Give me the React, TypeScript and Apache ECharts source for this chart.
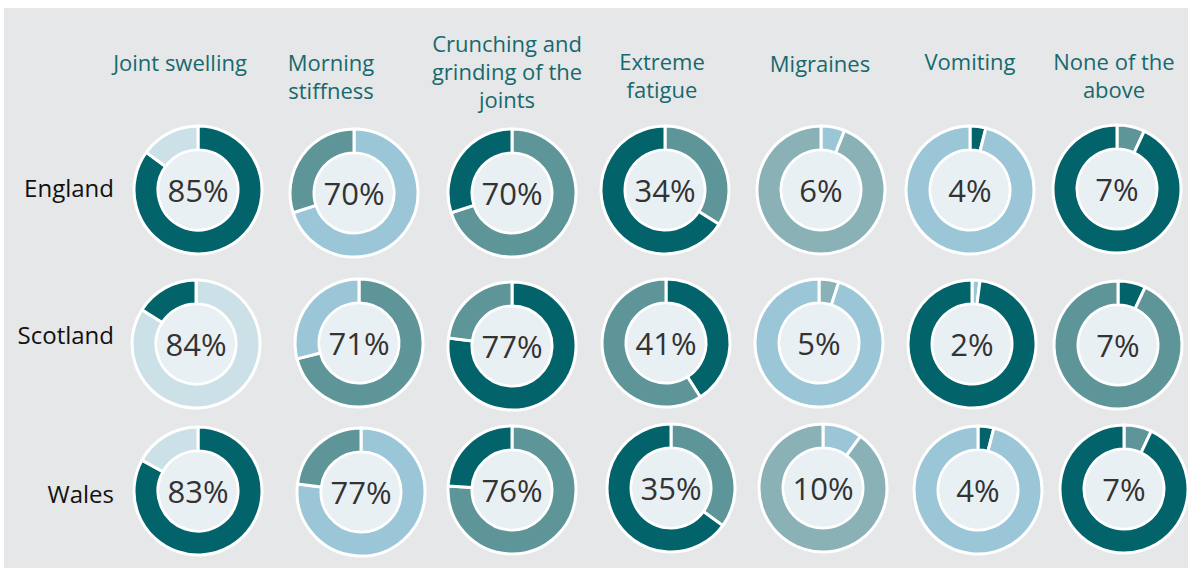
import React, { useEffect, useRef } from "react";
import * as echarts from "echarts";

// ---- Data ----
const countries = ["England", "Scotland", "Wales"];
const symptoms = [
  "Joint swelling",
  "Morning\nstiffness",
  "Crunching and\ngrinding of the\njoints",
  "Extreme\nfatigue",
  "Migraines",
  "Vomiting",
  "None of the\nabove",
];
const englandValues = [85, 70, 70, 34, 6, 4, 7];
const scotlandValues = [84, 71, 77, 41, 5, 2, 7];
const walesValues = [83, 77, 76, 35, 10, 4, 7];

// ---- Palette ----
const D = "#02636a";
const M = "#5e9599";
const LB = "#9bc6d7";
const VL = "#cce0e8";
const G = "#8ab1b6";
const INNER = "#e9f0f3";
const BG = "#e6e7e8";
const HEAD = "#16696d";

// value segment colour / remainder colour per donut
const englandColors = [[D, VL], [LB, M], [M, D], [M, D], [LB, G], [D, LB], [M, D]];
const scotlandColors = [[VL, D], [M, LB], [D, M], [D, M], [G, LB], [LB, D], [D, M]];
const walesColors = [[D, VL], [LB, M], [M, D], [M, D], [LB, G], [D, LB], [M, D]];

// ---- Layout ----
const centerX = [
  [198, 354, 512, 665, 821, 970, 1117],
  [196, 359, 512, 666, 819, 972, 1118],
  [198, 361, 512, 671, 823, 978, 1124],
];
const centerY = [
  [190, 193, 193, 190, 190, 190, 189],
  [344, 343, 346, 343, 343, 344, 345],
  [491, 492, 490, 488, 488, 490, 489],
];
const headerX = [180, 331, 507, 662, 820, 970, 1114];
const headerTop = [48, 48, 29, 47, 49, 47, 47];
const rowLabelY = [187, 334, 493];
const FONT = "'Open Sans', 'Noto Sans', sans-serif";

export default function App() {
  const ref = useRef<HTMLDivElement>(null);
  useEffect(() => {
    document.body.style.margin = "0";
    if (!ref.current) return;
    const chart = echarts.init(ref.current, undefined, { renderer: "svg" });
    const rows = [
      { values: englandValues, colors: englandColors },
      { values: scotlandValues, colors: scotlandColors },
      { values: walesValues, colors: walesColors },
    ];
    const series: any[] = [];
    rows.forEach((row, r) => {
      row.values.forEach((v, c) => {
        const center = [centerX[r][c], centerY[r][c]];
        series.push({
          type: "pie",
          silent: true,
          center,
          radius: [40, 64],
          startAngle: 90,
          clockwise: true,
          label: { show: false },
          labelLine: { show: false },
          emphasis: { disabled: true },
          itemStyle: { borderColor: "#ffffff", borderWidth: 3 },
          data: [
            { value: v, name: "v", itemStyle: { color: row.colors[c][0] } },
            { value: 100 - v, name: "rest", itemStyle: { color: row.colors[c][1] } },
          ],
          z: 2,
        });
        series.push({
          type: "pie",
          silent: true,
          center,
          radius: [0, 38.5],
          label: {
            show: true,
            position: "center",
            formatter: () => `${v}%`,
            fontSize: 31,
            fontFamily: FONT,
            color: "#333333",
          },
          labelLine: { show: false },
          emphasis: { disabled: true },
          itemStyle: { color: INNER, borderWidth: 0 },
          data: [{ value: 1, name: "inner" }],
          z: 3,
        });
      });
    });

    const graphic: any[] = [
      {
        type: "rect",
        z: -10,
        shape: { x: 4, y: 8, width: 1184, height: 560 },
        style: { fill: BG },
        silent: true,
      },
    ];
    symptoms.forEach((s, i) => {
      graphic.push({
        type: "text",
        z: 10,
        x: headerX[i],
        y: headerTop[i],
        style: {
          text: s,
          fill: HEAD,
          fontSize: 22,
          fontFamily: FONT,
          align: "center",
          verticalAlign: "top",
          lineHeight: 28,
        },
      });
    });
    countries.forEach((cn, i) => {
      graphic.push({
        type: "text",
        z: 10,
        x: 114,
        y: rowLabelY[i],
        style: {
          text: cn,
          fill: "#111111",
          fontSize: 24,
          fontFamily: FONT,
          align: "right",
          verticalAlign: "middle",
        },
      });
    });

    chart.setOption({
      animation: false,
      backgroundColor: "#ffffff",
      graphic,
      series,
    });
    return () => chart.dispose();
  }, []);
  return <div ref={ref} style={{ width: 1197, height: 568 }} />;
}
